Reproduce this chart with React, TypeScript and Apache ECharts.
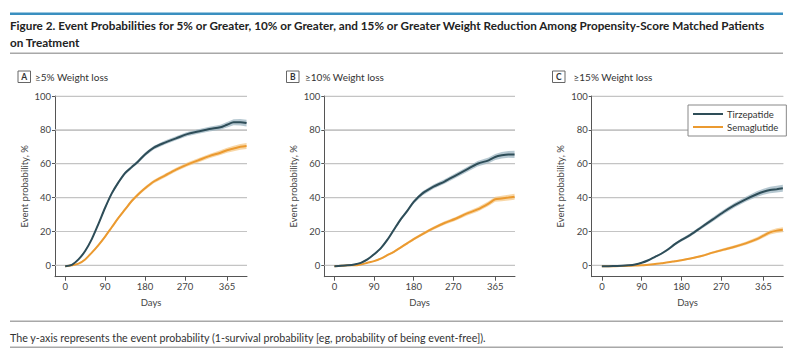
import React, { useEffect, useRef } from "react";
import * as echarts from "echarts";

const days = [0, 15, 30, 45, 60, 75, 90, 105, 120, 135, 150, 165, 180, 200, 225, 250, 275, 300, 325, 350, 365, 380, 395, 409];

const tirz5 = [-0.5, 0.3, 3.5, 8.5, 15.5, 24.5, 34, 42.5, 49, 54.5, 58, 61.5, 65.5, 69.5, 72.5, 75, 77.5, 79, 80.5, 81.5, 83, 84.5, 84.5, 84];
const sema5 = [-0.5, 0, 1, 3.5, 7.5, 12, 17, 22.5, 28, 33, 38, 42, 45.5, 49.5, 53, 56.5, 59.5, 62, 64.5, 66.5, 68, 69, 70, 70.5];
const tirz10 = [-0.5, -0.3, 0, 0.5, 1.5, 3.5, 6.5, 10, 15, 21, 27, 32, 37.5, 42.5, 46.5, 49.5, 53, 56.5, 60, 62, 64, 65, 65.5, 65.5];
const sema10 = [-0.5, -0.3, 0, 0, 0.5, 1.5, 2.5, 4, 6, 8, 10.5, 13, 15.5, 18.5, 22, 25, 27.5, 30.5, 33, 36.5, 39, 39.5, 40, 40.5];
const tirz15 = [-0.5, -0.5, -0.4, -0.3, 0, 0.5, 1.5, 3, 5, 7, 9.5, 12.5, 15, 18, 22.5, 27, 31.5, 35.5, 39, 42, 43.5, 44.5, 45, 45.5];
const sema15 = [-0.5, -0.5, -0.5, -0.4, -0.3, -0.1, 0, 0.4, 0.8, 1.3, 1.8, 2.4, 3, 4, 5.5, 7.5, 9.3, 11, 13, 15.5, 17.5, 19.5, 20.5, 21];

// half-widths of the confidence bands
const ciTirz5 = [0.2, 0.3, 0.4, 0.5, 0.6, 0.7, 0.8, 0.9, 0.9, 1, 1, 1, 1.1, 1.1, 1.2, 1.2, 1.3, 1.3, 1.4, 1.5, 1.6, 1.8, 1.9, 2];
const ciSema5 = [0.2, 0.2, 0.3, 0.4, 0.5, 0.6, 0.7, 0.8, 0.8, 0.9, 0.9, 1, 1, 1, 1.1, 1.1, 1.2, 1.2, 1.3, 1.4, 1.5, 1.6, 1.7, 1.8];
const ciTirz10 = [0.2, 0.2, 0.2, 0.3, 0.4, 0.5, 0.6, 0.7, 0.8, 0.9, 1, 1, 1.1, 1.2, 1.2, 1.3, 1.4, 1.5, 1.6, 1.7, 1.8, 1.9, 2, 2.1];
const ciSema10 = [0.2, 0.2, 0.2, 0.2, 0.3, 0.3, 0.4, 0.5, 0.6, 0.6, 0.7, 0.8, 0.8, 0.9, 1, 1, 1.1, 1.2, 1.3, 1.4, 1.5, 1.6, 1.7, 1.8];
const ciTirz15 = [0.2, 0.2, 0.2, 0.2, 0.2, 0.3, 0.3, 0.4, 0.5, 0.6, 0.7, 0.8, 0.9, 1, 1.1, 1.2, 1.3, 1.4, 1.5, 1.7, 1.8, 1.9, 2, 2.1];
const ciSema15 = [0.2, 0.2, 0.2, 0.2, 0.2, 0.2, 0.2, 0.2, 0.3, 0.3, 0.3, 0.4, 0.4, 0.5, 0.6, 0.7, 0.8, 0.9, 1, 1.1, 1.2, 1.3, 1.4, 1.5];

const seriesNames = ["Tirzepatide", "Semaglutide"];
const panelLetters = ["A", "B", "C"];
const panelTitles = ["≥5% Weight loss", "≥10% Weight loss", "≥15% Weight loss"];
const xTicks = [0, 90, 180, 270, 365];
const yTicks = [0, 20, 40, 60, 80, 100];
const titleLine1 = "Figure 2. Event Probabilities for 5% or Greater, 10% or Greater, and 15% or Greater Weight Reduction Among Propensity-Score Matched Patients";
const titleLine2 = "on Treatment";
const footnote = "The y-axis represents the event probability (1-survival probability [eg, probability of being event-free]).";
const yAxisName = "Event probability, %";
const xAxisName = "Days";

const panelData = [
  { tirz: tirz5, sema: sema5, ciT: ciTirz5, ciS: ciSema5 },
  { tirz: tirz10, sema: sema10, ciT: ciTirz10, ciS: ciSema10 },
  { tirz: tirz15, sema: sema15, ciT: ciTirz15, ciS: ciSema15 },
];

const DARK = "#2e4d58";
const DARK_BAND = "#9db5c2";
const ORANGE = "#eb9a30";
const ORANGE_BAND = "#f6c98a";
const GRID_LINE = "#c4c4c4";
const FONT = "Lato";
const X_MIN = -23;
const X_MAX = 410;

const grids = [
  { left: 55, width: 192 },
  { left: 324.3, width: 190.7 },
  { left: 591.7, width: 191.6 },
];
const panelHeader = [
  { box: 18, text: 35 },
  { box: 286.5, text: 305 },
  { box: 552.5, text: 573.5 },
];

function bandSeries(i: number, vals: number[], ci: number[], color: string, key: string) {
  return {
    type: "custom",
    name: `band-${key}-${i}`,
    xAxisIndex: i,
    yAxisIndex: i,
    silent: true,
    clip: true,
    z: 2,
    data: [[days[0], vals[0]]],
    renderItem: (_params: any, api: any) => {
      const upper = days.map((d, k) => api.coord([d, vals[k] + ci[k]]));
      const lower = days.map((d, k) => api.coord([d, vals[k] - ci[k]])).reverse();
      return {
        type: "polygon",
        shape: { points: upper.concat(lower) },
        style: { fill: color, opacity: 0.75 },
      };
    },
  };
}

function gridLineSeries(i: number, v: number) {
  return {
    type: "line",
    name: `grid-${i}-${v}`,
    xAxisIndex: i,
    yAxisIndex: i,
    silent: true,
    symbol: "none",
    z: 1,
    data: [
      [X_MIN, v],
      [X_MAX, v],
    ],
    lineStyle: { color: GRID_LINE, width: 1.2, opacity: 1 },
    itemStyle: { color: GRID_LINE },
    tooltip: { show: false },
  };
}

function buildOption() {
  const series: any[] = [];
  const xAxis: any[] = [];
  const yAxis: any[] = [];
  const grid: any[] = [];
  const graphic: any[] = [];

  grids.forEach((g, i) => {
    grid.push({ left: g.left, width: g.width, top: 96, bottom: 79.3, containLabel: false });
    xAxis.push({
      type: "value",
      gridIndex: i,
      min: X_MIN,
      max: X_MAX,
      name: xAxisName,
      nameLocation: "middle",
      nameGap: 21,
      nameTextStyle: { fontFamily: FONT, fontSize: 9.5, color: "#444" },
      axisLine: { show: true, onZero: false, lineStyle: { color: "#555", width: 1 } },
      axisTick: { show: true, length: 4, customValues: xTicks, lineStyle: { color: "#555" } },
      axisLabel: { customValues: xTicks, fontFamily: FONT, fontSize: 9.5, color: "#444", margin: 5 },
      splitLine: { show: false },
      z: 5,
    });
    yAxis.push({
      type: "value",
      gridIndex: i,
      min: -6.7,
      max: 100,
      name: yAxisName,
      nameLocation: "middle",
      nameGap: 26,
      nameRotate: 90,
      nameTextStyle: { fontFamily: FONT, fontSize: 9.5, color: "#444" },
      axisLine: { show: true, onZero: false, lineStyle: { color: "#555", width: 1 } },
      axisTick: { show: true, length: 3, customValues: yTicks, lineStyle: { color: "#555" } },
      axisLabel: { customValues: yTicks, fontFamily: FONT, fontSize: 9.5, color: "#444", margin: 4 },
      splitLine: { show: true, lineStyle: { color: GRID_LINE, width: 1 } },
    });

    const pd = panelData[i];
    yTicks.forEach((v) => series.push(gridLineSeries(i, v)));
    series.push(bandSeries(i, pd.sema, pd.ciS, ORANGE_BAND, "s"));
    series.push(bandSeries(i, pd.tirz, pd.ciT, DARK_BAND, "t"));
    series.push({
      type: "line",
      name: seriesNames[1],
      xAxisIndex: i,
      yAxisIndex: i,
      data: days.map((d, k) => [d, pd.sema[k]]),
      symbol: "none",
      smooth: 0.3,
      lineStyle: { color: ORANGE, width: 2 },
      itemStyle: { color: ORANGE },
      z: 3,
    });
    series.push({
      type: "line",
      name: seriesNames[0],
      xAxisIndex: i,
      yAxisIndex: i,
      data: days.map((d, k) => [d, pd.tirz[k]]),
      symbol: "none",
      smooth: 0.3,
      lineStyle: { color: DARK, width: 2 },
      itemStyle: { color: DARK },
      z: 4,
    });

    const h = panelHeader[i];
    graphic.push({
      type: "rect",
      shape: { x: h.box, y: 71, width: 12.5, height: 11.5 },
      style: { fill: "#fff", stroke: "#666", lineWidth: 1 },
    });
    graphic.push({
      type: "text",
      x: h.box + 6.25,
      y: 77,
      style: { text: panelLetters[i], fontFamily: FONT, fontSize: 8.5, fontWeight: "bold", fill: "#333", align: "center", verticalAlign: "middle" },
    });
    graphic.push({
      type: "text",
      x: h.text,
      y: 76.5,
      style: { text: panelTitles[i], fontFamily: FONT, fontSize: 10, fill: "#333", align: "left", verticalAlign: "middle" },
    });
  });

  graphic.push(
    { type: "rect", shape: { x: 10, y: 12.5, width: 773, height: 2.5 }, style: { fill: "#3a8fc0" } },
    {
      type: "text",
      x: 10,
      y: 25,
      scaleX: 0.977,
      style: { text: titleLine1, fontFamily: FONT, fontSize: 12, fontWeight: "bold", fill: "#222", align: "left", verticalAlign: "middle" },
    },
    {
      type: "text",
      x: 10,
      y: 42,
      scaleX: 0.977,
      style: { text: titleLine2, fontFamily: FONT, fontSize: 12, fontWeight: "bold", fill: "#222", align: "left", verticalAlign: "middle" },
    },
    { type: "rect", shape: { x: 10, y: 52.5, width: 773, height: 1.5 }, style: { fill: "#a8a8a8" } },
    { type: "rect", shape: { x: 10, y: 320.5, width: 773, height: 1.5 }, style: { fill: "#a8a8a8" } },
    {
      type: "text",
      x: 10,
      y: 337,
      scaleX: 1.0,
      style: { text: footnote, fontFamily: FONT, fontSize: 10.7, fill: "#333", align: "left", verticalAlign: "middle" },
    },
    { type: "rect", shape: { x: 10, y: 346.5, width: 773, height: 1.5 }, style: { fill: "#a8a8a8" } }
  );

  return {
    animation: false,
    backgroundColor: "#fff",
    grid,
    xAxis,
    yAxis,
    series,
    legend: {
      data: seriesNames,
      left: 688,
      top: 105,
      orient: "vertical",
      backgroundColor: "#fff",
      borderColor: "#888",
      borderWidth: 1,
      borderRadius: 0,
      padding: [4, 8, 4, 5],
      itemGap: 3,
      itemWidth: 30,
      itemHeight: 2,
      icon: "rect",
      selectedMode: false,
      textStyle: { fontFamily: FONT, fontSize: 9.5, color: "#333", padding: [0, 0, 0, -1] },
    },
    graphic,
  };
}

export default function App() {
  const ref = useRef<HTMLDivElement>(null);
  useEffect(() => {
    if (!ref.current) return;
    const chart = echarts.init(ref.current, undefined, { renderer: "svg" });
    chart.setOption(buildOption() as any);
    return () => chart.dispose();
  }, []);
  return (
    <div
      ref={ref}
      style={{ position: "absolute", left: 0, top: 0, width: 800, height: 356, background: "#fff" }}
    />
  );
}
